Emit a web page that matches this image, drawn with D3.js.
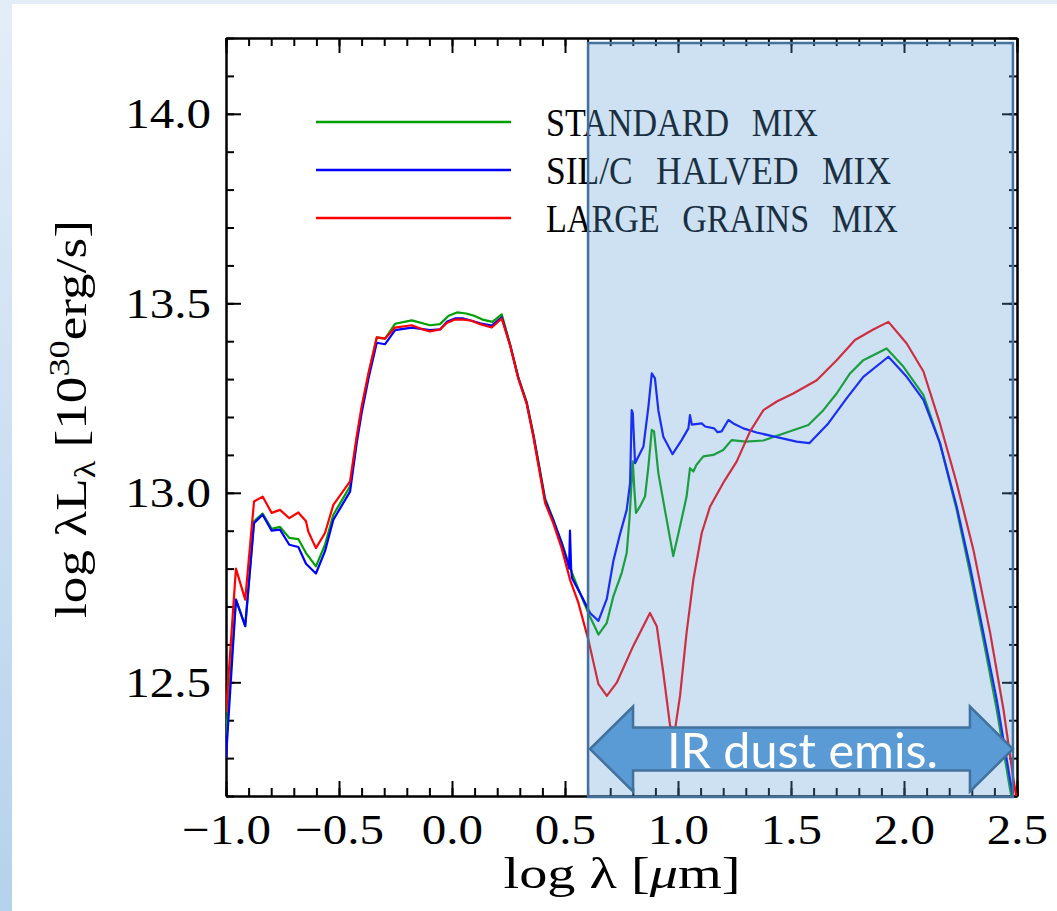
<!DOCTYPE html>
<html>
<head>
<meta charset="utf-8">
<script src="https://cdn.jsdelivr.net/npm/d3@7"></script>
<style>
  html, body { margin: 0; padding: 0; background: #fff; }
  svg { display: block; }
</style>
</head>
<body>
<svg id="chart" width="1057" height="911"></svg>
<script>
// ---- Spectral energy distributions: log wavelength [um] vs log(lambda L_lambda) ----
const seriesLabels = ["STANDARD MIX", "SIL/C HALVED MIX", "LARGE GRAINS MIX"];

const stdLogLambda = [-1.0, -0.956, -0.915, -0.876, -0.838, -0.798, -0.761, -0.72, -0.68, -0.646, -0.602, -0.562, -0.525, -0.451, -0.422, -0.40, -0.37, -0.333, -0.296, -0.252, -0.178, -0.097, -0.053, -0.015, 0.022, 0.063, 0.098, 0.135, 0.179, 0.22, 0.257, 0.293, 0.33, 0.36, 0.412, 0.448, 0.485, 0.515, 0.53, 0.566, 0.603, 0.648, 0.685, 0.714, 0.751, 0.773, 0.785, 0.80, 0.807, 0.814, 0.832, 0.854, 0.869, 0.884, 0.894, 0.913, 0.942, 0.979, 1.009, 1.038, 1.053, 1.068, 1.082, 1.112, 1.156, 1.2, 1.237, 1.3, 1.378, 1.451, 1.577, 1.643, 1.702, 1.761, 1.82, 1.923, 1.997, 2.086, 2.159, 2.233, 2.292, 2.351, 2.41, 2.469, 2.51];
const stdLogL = [12.36, 12.718, 12.648, 12.925, 12.945, 12.905, 12.91, 12.881, 12.878, 12.841, 12.806, 12.863, 12.942, 13.017, 13.14, 13.22, 13.31, 13.41, 13.407, 13.446, 13.455, 13.442, 13.445, 13.467, 13.476, 13.473, 13.467, 13.457, 13.451, 13.471, 13.392, 13.306, 13.24, 13.155, 12.985, 12.93, 12.87, 12.815, 12.79, 12.736, 12.683, 12.626, 12.657, 12.727, 12.789, 12.841, 12.929, 13.083, 13.008, 12.947, 12.964, 12.99, 13.069, 13.166, 13.162, 13.052, 12.955, 12.833, 12.912, 12.99, 13.065, 13.056, 13.074, 13.096, 13.10, 13.113, 13.139, 13.135, 13.138, 13.153, 13.179, 13.218, 13.262, 13.315, 13.35, 13.381, 13.333, 13.258, 13.131, 12.955, 12.789, 12.613, 12.429, 12.218, 12.10];

const halvedLogLambda = [-1.0, -0.956, -0.915, -0.876, -0.838, -0.798, -0.761, -0.72, -0.68, -0.646, -0.602, -0.562, -0.525, -0.451, -0.422, -0.40, -0.37, -0.333, -0.296, -0.252, -0.178, -0.097, -0.053, -0.023, 0.013, 0.05, 0.087, 0.124, 0.176, 0.22, 0.257, 0.293, 0.33, 0.36, 0.412, 0.448, 0.485, 0.512, 0.518, 0.522, 0.527, 0.531, 0.566, 0.611, 0.648, 0.685, 0.714, 0.743, 0.773, 0.788, 0.795, 0.80, 0.81, 0.825, 0.847, 0.869, 0.884, 0.898, 0.913, 0.935, 0.976, 1.016, 1.046, 1.053, 1.061, 1.105, 1.12, 1.16, 1.175, 1.193, 1.223, 1.245, 1.289, 1.348, 1.437, 1.525, 1.581, 1.665, 1.746, 1.82, 1.931, 2.012, 2.086, 2.159, 2.233, 2.292, 2.351, 2.41, 2.469, 2.51];
const halvedLogL = [12.30, 12.718, 12.648, 12.92, 12.942, 12.90, 12.903, 12.863, 12.857, 12.813, 12.787, 12.846, 12.929, 13.003, 13.13, 13.21, 13.30, 13.396, 13.392, 13.429, 13.436, 13.429, 13.431, 13.451, 13.46, 13.46, 13.454, 13.447, 13.441, 13.463, 13.39, 13.304, 13.238, 13.152, 12.98, 12.928, 12.868, 12.815, 12.80, 12.90, 12.80, 12.775, 12.736, 12.683, 12.662, 12.72, 12.82, 12.89, 12.955, 13.026, 13.218, 13.21, 13.078, 13.096, 13.122, 13.227, 13.315, 13.302, 13.218, 13.148, 13.102, 13.139, 13.17, 13.205, 13.18, 13.183, 13.175, 13.17, 13.16, 13.162, 13.192, 13.183, 13.17, 13.159, 13.147, 13.135, 13.131, 13.183, 13.249, 13.306, 13.359, 13.306, 13.245, 13.131, 12.964, 12.806, 12.631, 12.455, 12.245, 12.10];

const largeLogLambda = [-1.0, -0.956, -0.915, -0.876, -0.838, -0.798, -0.761, -0.72, -0.68, -0.646, -0.636, -0.602, -0.562, -0.525, -0.451, -0.422, -0.40, -0.37, -0.333, -0.296, -0.252, -0.178, -0.134, -0.097, -0.053, -0.023, 0.013, 0.05, 0.087, 0.124, 0.176, 0.22, 0.257, 0.293, 0.33, 0.36, 0.412, 0.448, 0.485, 0.522, 0.559, 0.603, 0.648, 0.685, 0.729, 0.802, 0.876, 0.906, 0.935, 0.965, 0.987, 1.009, 1.038, 1.068, 1.105, 1.142, 1.2, 1.26, 1.319, 1.378, 1.437, 1.51, 1.614, 1.702, 1.783, 1.864, 1.931, 2.012, 2.086, 2.159, 2.233, 2.307, 2.381, 2.44, 2.484, 2.51];
const largeLogL = [12.42, 12.80, 12.718, 12.977, 12.99, 12.947, 12.955, 12.933, 12.948, 12.925, 12.898, 12.854, 12.894, 12.968, 13.03, 13.148, 13.227, 13.315, 13.41, 13.407, 13.436, 13.442, 13.432, 13.426, 13.431, 13.448, 13.457, 13.457, 13.454, 13.445, 13.436, 13.46, 13.389, 13.302, 13.236, 13.148, 12.973, 12.92, 12.854, 12.771, 12.71, 12.613, 12.495, 12.464, 12.499, 12.596, 12.683, 12.648, 12.525, 12.385, 12.376, 12.464, 12.631, 12.771, 12.894, 12.964, 13.026, 13.083, 13.162, 13.218, 13.241, 13.262, 13.297, 13.35, 13.403, 13.431, 13.451, 13.394, 13.32, 13.183, 13.026, 12.85, 12.631, 12.429, 12.245, 12.15];

// Axis ticks
const xMajorTicks = [-1.0, -0.5, 0.0, 0.5, 1.0, 1.5, 2.0, 2.5];
const yMajorTicks = [12.5, 13.0, 13.5, 14.0];
const xMinorTicks = d3.range(-10, 26).map(d => d / 10);
const yMinorTicks = d3.range(122, 143).map(d => d / 10);

// Wavelength range of the IR dust emission band
const irBand = [0.602, 2.482];
const irLabel = "IR dust emis.";

// ---- Layout ----
const W = 1057, H = 911;
const box = { left: 226, right: 1017, top: 38, bottom: 796 };
const serif = "'Liberation Serif', 'Times New Roman', serif";

const svg = d3.select("#chart");
const defs = svg.append("defs");

// slide-like backdrop
const bg = defs.append("linearGradient").attr("id", "bgGrad")
  .attr("x1", 0).attr("y1", 0).attr("x2", 0).attr("y2", 1);
bg.append("stop").attr("offset", "0%").attr("stop-color", "#e3edf8");
bg.append("stop").attr("offset", "100%").attr("stop-color", "#b5d2ec");
svg.append("rect").attr("width", W).attr("height", H).attr("fill", "url(#bgGrad)");
svg.append("rect").attr("x", 12).attr("y", 4).attr("width", W - 12).attr("height", H - 4).attr("fill", "#fff");

const x = d3.scaleLinear().domain([-1.0, 2.5]).range([box.left, box.right]);
const y = d3.scaleLinear().domain([12.2, 14.2]).range([box.bottom, box.top]);

defs.append("clipPath").attr("id", "plotClip").append("rect")
  .attr("x", box.left).attr("y", box.top)
  .attr("width", box.right - box.left).attr("height", box.bottom - box.top);

// widen glyphs a little around their anchor point
function stretch(sel, fx) {
  sel.each(function () {
    const t = d3.select(this);
    const tx = +t.attr("x") || 0, ty = +t.attr("y") || 0;
    t.attr("transform", `translate(${tx},${ty}) scale(${fx},1) translate(${-tx},${-ty})`);
  });
}

function styleAxis(g) {
  g.select(".domain").attr("stroke", "#000").attr("stroke-width", 2);
  g.selectAll(".tick line").attr("stroke", "#000").attr("stroke-width", 2);
  g.selectAll("text").attr("font-family", serif).attr("font-size", 43).attr("fill", "#000");
}

const MAJ = 15, MIN = 8;
const axes = svg.append("g");

// minor ticks on all four sides
axes.append("g").attr("transform", `translate(0,${box.bottom})`)
  .call(d3.axisBottom(x).tickValues(xMinorTicks).tickSize(-MIN).tickSizeOuter(0).tickFormat(""))
  .call(styleAxis);
axes.append("g").attr("transform", `translate(0,${box.top})`)
  .call(d3.axisTop(x).tickValues(xMinorTicks).tickSize(-MIN).tickSizeOuter(0).tickFormat(""))
  .call(styleAxis);
axes.append("g").attr("transform", `translate(${box.left},0)`)
  .call(d3.axisLeft(y).tickValues(yMinorTicks).tickSize(-MIN).tickSizeOuter(0).tickFormat(""))
  .call(styleAxis);
axes.append("g").attr("transform", `translate(${box.right},0)`)
  .call(d3.axisRight(y).tickValues(yMinorTicks).tickSize(-MIN).tickSizeOuter(0).tickFormat(""))
  .call(styleAxis);

// major ticks, labelled on bottom and left
const xAxisG = axes.append("g").attr("transform", `translate(0,${box.bottom})`)
  .call(d3.axisBottom(x).tickValues(xMajorTicks).tickSize(-MAJ).tickSizeOuter(0)
    .tickPadding(20).tickFormat(d3.format(".1f")))
  .call(styleAxis);
xAxisG.selectAll("text").attr("dy", null).attr("y", 48);
stretch(xAxisG.selectAll("text"), 1.14);

axes.append("g").attr("transform", `translate(0,${box.top})`)
  .call(d3.axisTop(x).tickValues(xMajorTicks).tickSize(-MAJ).tickSizeOuter(0).tickFormat(""))
  .call(styleAxis);

const yAxisG = axes.append("g").attr("transform", `translate(${box.left},0)`)
  .call(d3.axisLeft(y).tickValues(yMajorTicks).tickSize(-MAJ).tickSizeOuter(0)
    .tickPadding(15).tickFormat(d3.format(".1f")))
  .call(styleAxis);
yAxisG.selectAll("text").attr("dy", null).attr("y", 14);
stretch(yAxisG.selectAll("text"), 1.14);

axes.append("g").attr("transform", `translate(${box.right},0)`)
  .call(d3.axisRight(y).tickValues(yMajorTicks).tickSize(-MAJ).tickSizeOuter(0).tickFormat(""))
  .call(styleAxis);

// axis titles
const xTitle = svg.append("text")
  .attr("font-family", serif).attr("font-size", 41).attr("text-anchor", "middle");
xTitle.append("tspan").text("log λ [");
xTitle.append("tspan").attr("font-style", "italic").text("μ");
xTitle.append("tspan").text("m]");
{
  const w = xTitle.node().getBBox().width;
  xTitle.attr("transform", `translate(622,888) scale(${237 / w},1.06)`);
}

const yTitle = svg.append("text")
  .attr("font-family", serif).attr("font-size", 44).attr("text-anchor", "middle");
yTitle.append("tspan").text("log λL");
yTitle.append("tspan").attr("font-size", 30).attr("dy", 9).text("λ");
yTitle.append("tspan").attr("dy", -9).text(" [10");
yTitle.append("tspan").attr("font-size", 30).attr("dy", -17).text("30");
yTitle.append("tspan").attr("dy", 17).text("erg/s]");
{
  const w = yTitle.node().getBBox().width;
  yTitle.attr("transform", `translate(86,419) rotate(-90) scale(${398 / w},1)`);
}

// ---- Curves ----
const series = [
  { label: seriesLabels[0], color: "#00a000", pts: d3.zip(stdLogLambda, stdLogL) },
  { label: seriesLabels[1], color: "#0000ff", pts: d3.zip(halvedLogLambda, halvedLogL) },
  { label: seriesLabels[2], color: "#ff0000", pts: d3.zip(largeLogLambda, largeLogL) }
];

const line = d3.line().x(d => x(d[0])).y(d => y(d[1]));
svg.append("g").attr("clip-path", "url(#plotClip)")
  .selectAll("path").data(series).join("path")
  .attr("d", d => line(d.pts))
  .attr("fill", "none")
  .attr("stroke", d => d.color)
  .attr("stroke-width", 2.2)
  .attr("stroke-linejoin", "round");

// ---- Legend ----
const legendWidths = [272, 345, 352];
const legend = svg.append("g");
series.forEach((s, i) => {
  const ly = 122 + i * 48;
  legend.append("line").attr("x1", 316).attr("x2", 511).attr("y1", ly).attr("y2", ly)
    .attr("stroke", s.color).attr("stroke-width", 2.5);
  legend.append("text").attr("x", 546).attr("y", ly + 14)
    .attr("font-family", serif).attr("font-size", 39).attr("fill", "#000")
    .style("word-spacing", "16px")
    .attr("textLength", legendWidths[i]).attr("lengthAdjust", "spacingAndGlyphs")
    .text(s.label);
});

// ---- IR band highlight ----
const bandTop = box.top + 5, bandBottom = box.bottom + 1;
svg.append("rect")
  .attr("x", x(irBand[0])).attr("y", bandTop)
  .attr("width", x(irBand[1]) - x(irBand[0])).attr("height", bandBottom - bandTop)
  .attr("fill", "rgba(91,155,213,0.3)")
  .attr("stroke", "#41719c").attr("stroke-width", 2.5);

// double-headed arrow across the band
const ax0 = x(irBand[0]) + 2, ax1 = x(irBand[1]);
const acy = 749, headLen = 43, headHalf = 42.5, shaftHalf = 21.5;
const arrowPts = [
  [ax0, acy], [ax0 + headLen, acy - headHalf], [ax0 + headLen, acy - shaftHalf],
  [ax1 - headLen, acy - shaftHalf], [ax1 - headLen, acy - headHalf], [ax1, acy],
  [ax1 - headLen, acy + headHalf], [ax1 - headLen, acy + shaftHalf],
  [ax0 + headLen, acy + shaftHalf], [ax0 + headLen, acy + headHalf]
];
svg.append("path")
  .attr("d", d3.line()(arrowPts) + "Z")
  .attr("fill", "#5b9bd5").attr("stroke", "#41719c").attr("stroke-width", 2.5)
  .attr("stroke-linejoin", "miter");
svg.append("text")
  .attr("x", (ax0 + ax1) / 2 + 1).attr("y", 768)
  .attr("text-anchor", "middle")
  .attr("font-family", "Lato, 'Open Sans', sans-serif").attr("font-size", 48)
  .attr("fill", "#fff")
  .attr("textLength", 271).attr("lengthAdjust", "spacingAndGlyphs")
  .text(irLabel);
</script>
</body>
</html>
